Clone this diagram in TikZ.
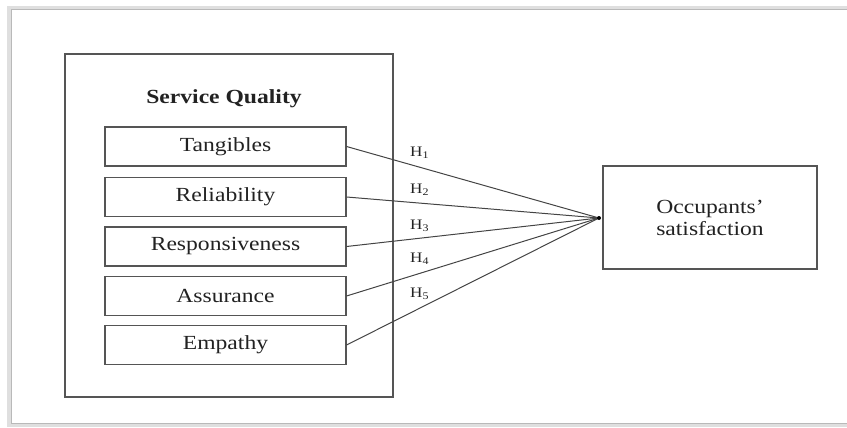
\documentclass[tikz,border=0pt]{standalone}
\usepackage{fontspec}
\setmainfont[FakeStretch=1.18]{Liberation Serif}
\definecolor{edge}{HTML}{555555}
\definecolor{ink}{HTML}{222222}
\definecolor{conn}{HTML}{444444}
\begin{document}
\begin{tikzpicture}[x=1pt,y=-1pt,
  dimbox/.style={draw=edge,line width=1.1pt,minimum width=241pt,minimum height=39pt,inner sep=0pt,text=ink,font=\fontsize{20}{22}\selectfont},
  hlab/.style={anchor=base west,inner sep=0pt,text=ink,font=\fontsize{14.5}{16}\selectfont},
  conline/.style={draw=conn,line width=1pt}]
\useasboundingbox (0,0) rectangle (847,428);
% page frame with shadow
\begin{scope}
\clip (0,0) rectangle (847,428);
\draw[gray!25,line width=4pt] (9,8) rectangle (870,425);
\draw[gray!55,line width=1pt] (11,10) rectangle (870,423);
\end{scope}
% service quality box
\node[draw=edge,line width=1.1pt,minimum width=328pt,minimum height=343pt,inner sep=0pt] (sq) at (229,225.5) {};
\node[text=ink,font=\bfseries\fontsize{20}{22}\selectfont,anchor=base] (sqt) at (224,103) {Service Quality};
\node[dimbox] (tan) at (225.5,146.5) {Tangibles};
\node[dimbox] (rel) at (225.5,197) {Reliability};
\node[dimbox] (res) at (225.5,246.5) {Responsiveness};
\node[dimbox] (ass) at (225.5,296) {Assurance};
\node[dimbox] (emp) at (225.5,345) {Empathy};
% outcome
\node[draw=edge,line width=1.1pt,minimum width=214pt,minimum height=103pt,inner sep=0pt,text=ink,align=center,font=\fontsize{20}{22}\selectfont] (occ) at (710,217.5) {Occupants’\\satisfaction};
\coordinate (hub) at (599,218);
\foreach \n in {tan,rel,res,ass,emp} \draw[conline] (\n.east) -- (hub);
\fill[black] (hub) circle (2pt);
% labels
\node[hlab] (h1) at (410,156) {H\textsubscript{1}};
\node[hlab] (h2) at (410,193.5) {H\textsubscript{2}};
\node[hlab] (h3) at (410,229.5) {H\textsubscript{3}};
\node[hlab] (h4) at (410,262.5) {H\textsubscript{4}};
\node[hlab] (h5) at (410,297.5) {H\textsubscript{5}};
\end{tikzpicture}
\end{document}
